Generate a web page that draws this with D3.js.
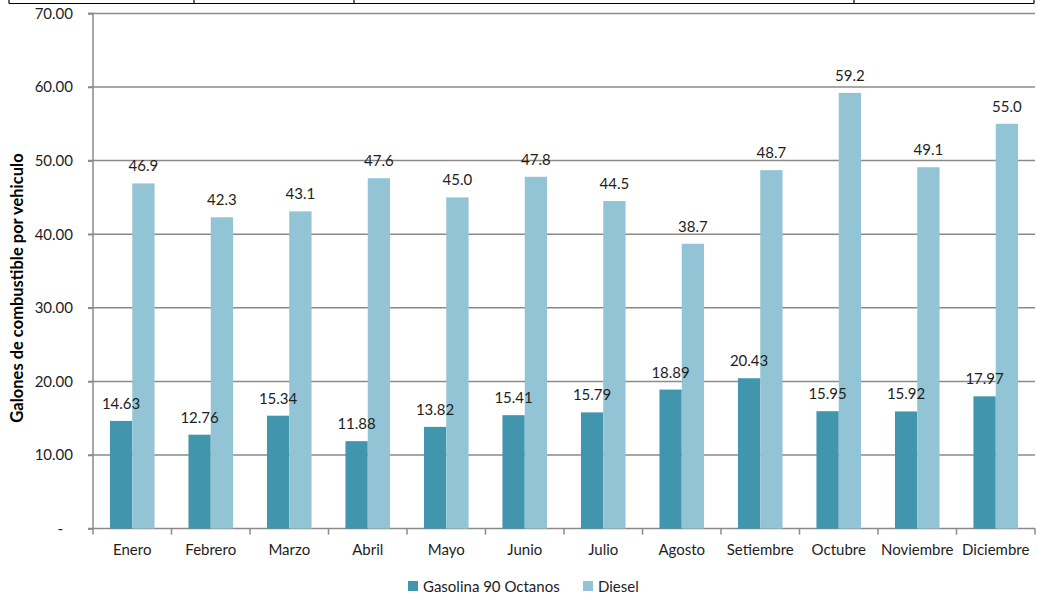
<!DOCTYPE html>
<html>
<head>
<meta charset="utf-8">
<script src="https://cdn.jsdelivr.net/npm/d3@7"></script>
<style>
  html, body { margin: 0; padding: 0; background: #fff; }
  svg { display: block; font-family: Lato, "Open Sans", sans-serif; }
</style>
</head>
<body>
<svg id="chart" width="1037" height="596"></svg>
<script>
// Monthly fuel consumption per vehicle (gallons)
const months = ["Enero", "Febrero", "Marzo", "Abril", "Mayo", "Junio", "Julio",
                "Agosto", "Setiembre", "Octubre", "Noviembre", "Diciembre"];
const gasolina = [14.63, 12.76, 15.34, 11.88, 13.82, 15.41, 15.79, 18.89, 20.43, 15.95, 15.92, 17.97];
const diesel = [46.9, 42.3, 43.1, 47.6, 45.0, 47.8, 44.5, 38.7, 48.7, 59.2, 49.1, 55.0];
const seriesNames = ["Gasolina 90 Octanos", "Diesel"];
const yTicks = [0, 10, 20, 30, 40, 50, 60, 70];

const colors = { "Gasolina 90 Octanos": "#4196ad", "Diesel": "#93c4d6" };
const gridColor = "#8a8a8a";
const textColor = "#1e1e1e";

const svg = d3.select("#chart");
const plotLeft = 93, plotRight = 1035, plotTop = 13.4, plotBottom = 528.6;

// Decorative table border running across the top of the page
const border = svg.append("g").attr("stroke", "#000").attr("stroke-width", 1.2);
border.append("line").attr("x1", 9).attr("x2", 1034).attr("y1", 3.5).attr("y2", 3.5);
[9, 194, 354, 854, 1034].forEach(x =>
  border.append("line").attr("x1", x).attr("x2", x).attr("y1", 0).attr("y2", 3.5));

const y = d3.scaleLinear().domain([0, 70]).range([plotBottom, plotTop]);
const x0 = d3.scaleBand().domain(months).range([plotLeft, plotRight]).padding(0);
const x1 = d3.scaleBand().domain(seriesNames).range([0, x0.bandwidth()])
  .paddingInner(0).paddingOuter(0.76);

// Horizontal gridlines
svg.append("g")
  .selectAll("line")
  .data(yTicks.filter(t => t > 0))
  .join("line")
  .attr("x1", plotLeft - 5).attr("x2", plotRight)
  .attr("y1", d => y(d)).attr("y2", d => y(d))
  .attr("stroke", gridColor).attr("stroke-width", 1.5);

// Y axis
const yAxis = svg.append("g")
  .attr("transform", `translate(${plotLeft},0)`)
  .call(d3.axisLeft(y).tickValues(yTicks).tickSize(5).tickPadding(15)
    .tickFormat(d => d === 0 ? "-" : d3.format(".2f")(d)));
yAxis.select(".domain").attr("stroke", gridColor).attr("stroke-width", 1.5)
  .attr("d", `M-5,${plotTop}H0V${plotBottom}`);
yAxis.selectAll(".tick line").attr("stroke", gridColor).attr("stroke-width", 1.5);
yAxis.selectAll(".tick text").attr("fill", textColor).style("font-size", "15px")
  .style("font-family", "Lato, sans-serif");
yAxis.selectAll(".tick text").filter(d => d === 0).attr("dx", -10);

// X axis
const xAxis = svg.append("g")
  .attr("transform", `translate(0,${plotBottom})`)
  .call(d3.axisBottom(x0).tickSize(0).tickPadding(16));
xAxis.select(".domain").attr("stroke", gridColor).attr("stroke-width", 1.5)
  .attr("d", `M${plotLeft - 5},0H${plotRight}`);
xAxis.selectAll(".tick text").attr("fill", textColor).style("font-size", "15px")
  .style("font-family", "Lato, sans-serif");
// Category separators
svg.append("g")
  .selectAll("line")
  .data(months.concat(["__end"]))
  .join("line")
  .attr("x1", (d, i) => plotLeft + i * x0.step()).attr("x2", (d, i) => plotLeft + i * x0.step())
  .attr("y1", plotBottom).attr("y2", plotBottom + 6)
  .attr("stroke", gridColor).attr("stroke-width", 1.5);

// Bars
const rows = months.map((m, i) => ({
  month: m,
  values: [
    { key: "Gasolina 90 Octanos", value: gasolina[i], fmt: d3.format(".2f") },
    { key: "Diesel", value: diesel[i], fmt: d3.format(".1f") }
  ]
}));

const groups = svg.append("g")
  .selectAll("g")
  .data(rows)
  .join("g")
  .attr("transform", d => `translate(${x0(d.month)},0)`);

groups.selectAll("rect")
  .data(d => d.values)
  .join("rect")
  .attr("x", d => x1(d.key))
  .attr("width", x1.bandwidth())
  .attr("y", d => y(d.value))
  .attr("height", d => y(0) - y(d.value))
  .attr("fill", d => colors[d.key]);

groups.selectAll("text")
  .data(d => d.values)
  .join("text")
  .attr("x", d => x1(d.key) + x1.bandwidth() / 2)
  .attr("y", d => y(d.value) - 12)
  .attr("text-anchor", "middle")
  .attr("fill", textColor)
  .style("font-size", "15px")
  .text(d => d.fmt(d.value));

// Y axis title
svg.append("text")
  .attr("transform", "translate(23,288) rotate(-90)")
  .attr("text-anchor", "middle")
  .attr("fill", "#000")
  .style("font-size", "16.5px")
  .style("font-weight", "bold")
  .text("Galones de combustible por vehiculo");

// Legend
const legend = svg.append("g").attr("transform", "translate(408,586)");
const legendX = [0, 175];
seriesNames.forEach((name, i) => {
  const g = legend.append("g").attr("transform", `translate(${legendX[i]},0)`);
  g.append("rect").attr("x", 0).attr("y", -5).attr("width", 10).attr("height", 10)
    .attr("fill", colors[name]);
  g.append("text").attr("x", 15).attr("y", 5.5).attr("fill", textColor)
    .style("font-size", "15px").text(name);
});
</script>
</body>
</html>
